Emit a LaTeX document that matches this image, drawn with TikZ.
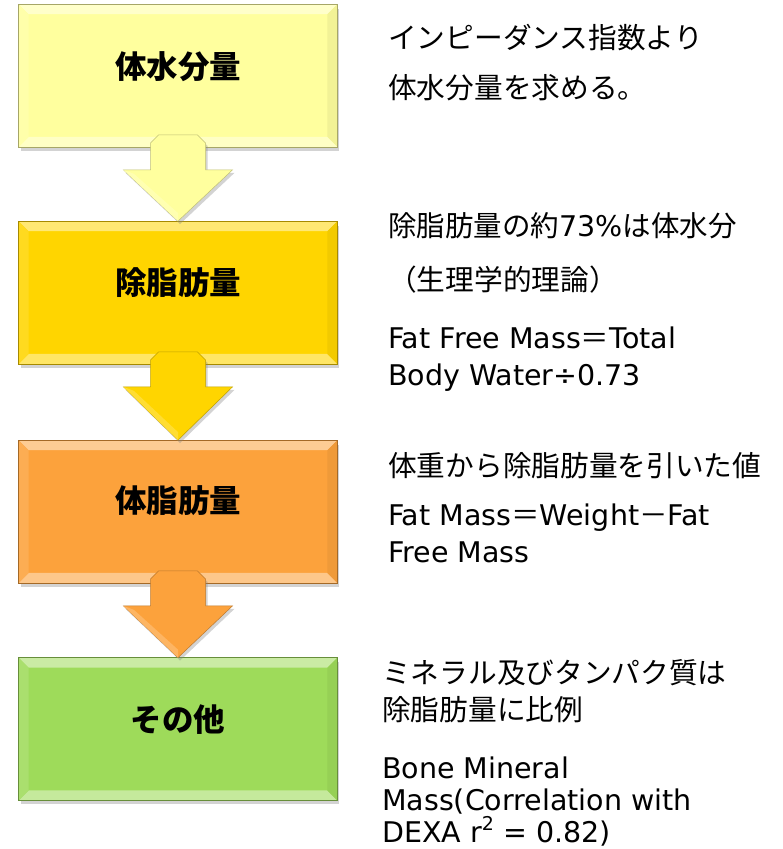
\documentclass[tikz,border=0pt]{standalone}
\usepackage{fontspec}
\setmainfont{DejaVu Sans}
\newfontfamily\jp{Noto Sans CJK JP}
\usetikzlibrary{calc,shadows}

\definecolor{cA}{HTML}{FFFF9E}
\definecolor{cB}{HTML}{FFD500}
\definecolor{cC}{HTML}{FCA23C}
\definecolor{cD}{HTML}{9EDB5A}

\tikzset{
  stepbox/.style={fill=#1, draw=#1!65!black, line width=0.8pt,
    minimum width=318pt, minimum height=142pt, inner sep=0pt,
    drop shadow={opacity=0.35, shadow xshift=2pt, shadow yshift=-4pt}},
  boxlabel/.style={inner sep=0pt, font=\jp\bfseries\fontsize{31.5}{36}\selectfont},
  note/.style={inner sep=0pt, anchor=base west, font=\fontsize{28.5}{34}\selectfont},
  jnote/.style={inner sep=0pt, anchor=base west, font=\jp\fontsize{28.7}{34}\selectfont},
}

\newcommand\bevelfacets[2]{%
  \fill[#2!55!white] (#1.north west) -- (#1.north east) -- ($(#1.north east)+(-10,10)$) -- ($(#1.north west)+(10,10)$) -- cycle;
  \fill[#2!60!white] (#1.south west) -- (#1.south east) -- ($(#1.south east)+(-10,-10)$) -- ($(#1.south west)+(10,-10)$) -- cycle;
  \fill[#2!88!white] (#1.north west) -- ($(#1.north west)+(10,10)$) -- ($(#1.south west)+(10,-10)$) -- (#1.south west) -- cycle;
  \fill[#2!95!black] (#1.north east) -- ($(#1.north east)+(-10,10)$) -- ($(#1.south east)+(-10,-10)$) -- (#1.south east) -- cycle;
  \draw[#2!65!black, line width=0.8pt] (#1.north west) rectangle (#1.south east);
}

\newcommand\flowarrow[3]{%
  \filldraw[fill=#3, draw=#3!75!black, line width=0.5pt,
    drop shadow={opacity=0.35, shadow xshift=2pt, shadow yshift=-3pt}]
    ($(#1.south)+(-27.5,-4)$) -- ($(#1.south)+(-19.5,-12)$) -- ($(#1.south)+(19.5,-12)$)
    -- ($(#1.south)+(27.5,-4)$) -- ($(#1.south)+(27.5,23)$) -- ($(#1.south)+(54.5,23)$)
    -- (#2.north) -- ($(#1.south)+(-54.5,23)$) -- ($(#1.south)+(-27.5,23)$) -- cycle;
  \fill[#3!80!white] ($(#1.south)+(-54.5,23)$) -- ($(#1.south)+(-44,27)$) -- ($(#2.north)+(0,-8)$) -- (#2.north) -- cycle;
}

\begin{document}
\begin{tikzpicture}[x=1pt, y=-1pt]
\useasboundingbox (0,0) rectangle (783,849);

\node[stepbox=cA] (b1) at (178,75.5) {};
\node[stepbox=cB] (b2) at (178,292.5) {};
\node[stepbox=cC] (b3) at (178,511.5) {};
\node[stepbox=cD] (b4) at (178,729) {};

\bevelfacets{b1}{cA}
\bevelfacets{b2}{cB}
\bevelfacets{b3}{cC}
\bevelfacets{b4}{cD}

\flowarrow{b1}{b2}{cA}
\flowarrow{b2}{b3}{cB}
\flowarrow{b3}{b4}{cC}

\node[boxlabel] (t1) at (178,67) {体水分量};
\node[boxlabel] (t2) at (178,283) {除脂肪量};
\node[boxlabel] (t3) at (178,501) {体脂肪量};
\node[boxlabel] (t4) at (178,720) {その他};

\node[jnote] (n1a) at (388,48) {インピーダンス指数より};
\node[jnote] (n1b) at (388,98) {体水分量を求める。};

\node[note] (n2a) at (388,236) {{\jp 除脂肪量の約}73\%{\jp は体水分}};
\node[jnote] (n2b) at (388,290) {（生理学的理論）};
\node[note] (n2c) at (388,348) {Fat Free Mass{\jp ＝}Total};
\node[note] (n2d) at (388,385) {Body Water÷0.73};

\node[jnote] (n3a) at (388,476) {体重から除脂肪量を引いた値};
\node[note] (n3b) at (388,525) {Fat Mass{\jp ＝}Weight{\jp －}Fat};
\node[note] (n3c) at (388,562) {Free Mass};

\node[jnote] (n4a) at (382,683) {ミネラル及びタンパク質は};
\node[jnote] (n4b) at (382,720) {除脂肪量に比例};
\node[note] (n4c) at (382,778) {Bone Mineral};
\node[note] (n4d) at (382,810) {Mass(Correlation with};
\node[note] (n4e) at (382,842) {DEXA r\raisebox{0.42em}{\fontsize{19}{19}\selectfont 2} = 0.82)};
\end{tikzpicture}
\end{document}
